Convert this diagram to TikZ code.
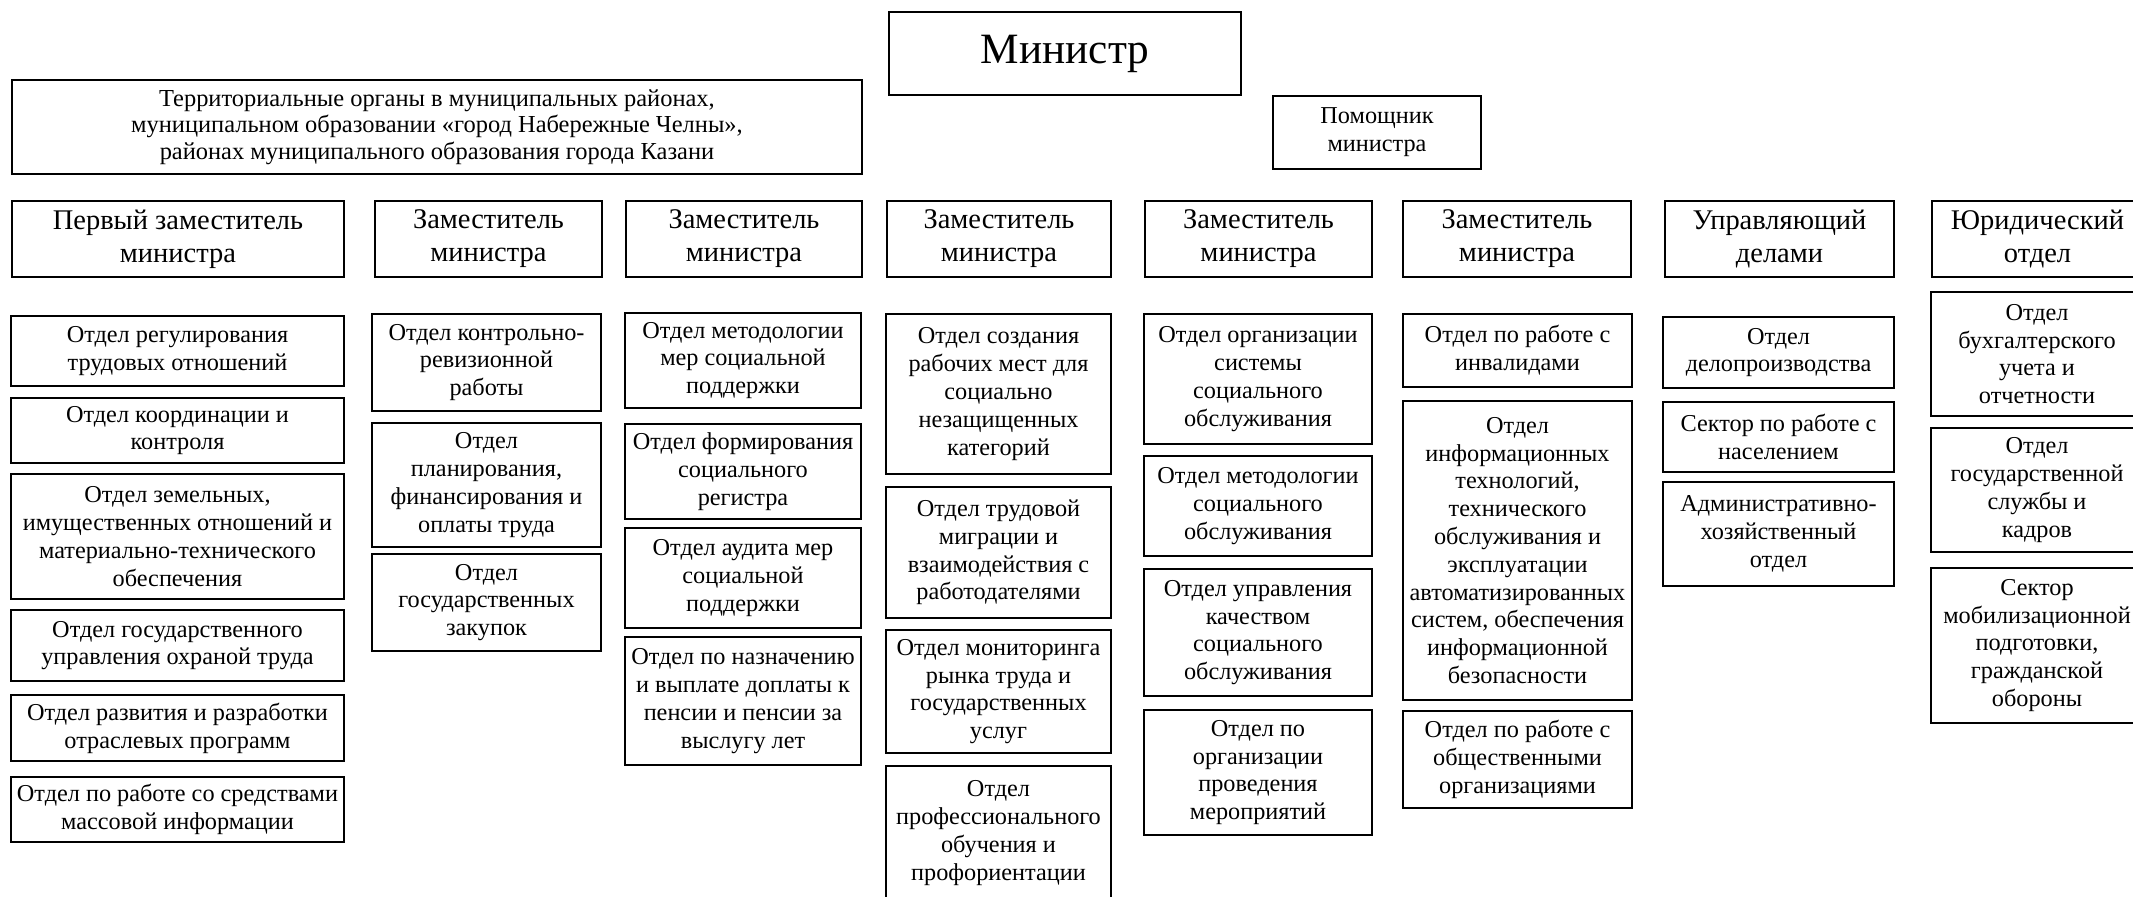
\documentclass[tikz,border=0pt]{standalone}
\usepackage{fontspec}
\setmainfont{Liberation Serif}

\begin{document}
\begin{tikzpicture}[x=0.01cm,y=-0.01cm,
        cell/.style n args={4}{minimum width={(#3-#1)*0.01cm},minimum height={(#4-#2)*0.01cm},
            at={({(#1+#3)/2},{(#2+#4)/2})}},
        box/.style={draw,line width=0.75pt,inner sep=0pt,align=center,
            font=\fontsize{6.9}{7.9}\selectfont},
        headbox/.style={box,font=\fontsize{8.1}{9.4}\selectfont}]
        \clip (0,0) rectangle (2133,897);

        % top
        \node[box,cell={889}{12}{1241}{95},font=\fontsize{12.3}{14}\selectfont] (min) {Министр};
        \node[box,cell={12}{80}{862}{174},font=\fontsize{6.95}{7.6}\selectfont] (terr) {Территориальные органы в муниципальных районах,\\муниципальном образовании «город Набережные Челны»,\\районах муниципального образования города Казани};
        \node[box,cell={1273}{96}{1481}{169},font=\fontsize{6.9}{8}\selectfont] (pom) {Помощник\\министра};

        % deputies
        \node[headbox,cell={12}{201}{344}{277}] (z1) {Первый заместитель\\министра};
        \node[headbox,cell={375}{201}{602}{277}] (z2) {Заместитель\\министра};
        \node[headbox,cell={626}{201}{862}{277}] (z3) {Заместитель\\министра};
        \node[headbox,cell={887}{201}{1111}{277}] (z4) {Заместитель\\министра};
        \node[headbox,cell={1145}{201}{1372}{277}] (z5) {Заместитель\\министра};
        \node[headbox,cell={1403}{201}{1631}{277}] (z6) {Заместитель\\министра};
        \node[headbox,cell={1665}{201}{1894}{277}] (upr) {Управляющий\\делами};
        \node[headbox,cell={1932}{201}{2143}{277}] (jur) {Юридический\\отдел};

        % first deputy
        \node[box,cell={11}{316}{344}{386}] (a1) {Отдел регулирования\\трудовых отношений};
        \node[box,cell={11}{398}{344}{463}] (a2) {Отдел координации и\\контроля};
        \node[box,cell={11}{474}{344}{599}] (a3) {Отдел земельных,\\имущественных отношений и\\материально-технического\\обеспечения};
        \node[box,cell={11}{610}{344}{681}] (a4) {Отдел государственного\\управления охраной труда};
        \node[box,cell={11}{695}{344}{761}] (a5) {Отдел развития и разработки\\отраслевых программ};
        \node[box,cell={11}{777}{344}{842}] (a6) {Отдел по работе со средствами\\массовой информации};

        % deputy 2
        \node[box,cell={372}{314}{601}{411}] (b1) {Отдел контрольно-\\ревизионной\\работы};
        \node[box,cell={372}{423}{601}{547}] (b2) {Отдел\\планирования,\\финансирования и\\оплаты труда};
        \node[box,cell={372}{554}{601}{651}] (b3) {Отдел\\государственных\\закупок};

        % deputy 3
        \node[box,cell={625}{313}{861}{408}] (c1) {Отдел методологии\\мер социальной\\поддержки};
        \node[box,cell={625}{424}{861}{519}] (c2) {Отдел формирования\\социального\\регистра};
        \node[box,cell={625}{528}{861}{628}] (c3) {Отдел аудита мер\\социальной\\поддержки};
        \node[box,cell={625}{637}{861}{765}] (c4) {Отдел по назначению\\и выплате доплаты к\\пенсии и пенсии за\\выслугу лет};

        % deputy 4
        \node[box,cell={886}{314}{1111}{474}] (d1) {Отдел создания\\рабочих мест для\\социально\\незащищенных\\категорий};
        \node[box,cell={886}{487}{1111}{618}] (d2) {Отдел трудовой\\миграции и\\взаимодействия с\\работодателями};
        \node[box,cell={886}{630}{1111}{753}] (d3) {Отдел мониторинга\\рынка труда и\\государственных\\услуг};
        \node[box,cell={886}{766}{1111}{900}] (d4) {Отдел\\профессионального\\обучения и\\профориентации};

        % deputy 5
        \node[box,cell={1144}{314}{1372}{444}] (e1) {Отдел организации\\системы\\социального\\обслуживания};
        \node[box,cell={1144}{456}{1372}{556}] (e2) {Отдел методологии\\социального\\обслуживания};
        \node[box,cell={1144}{569}{1372}{696}] (e3) {Отдел управления\\качеством\\социального\\обслуживания};
        \node[box,cell={1144}{710}{1372}{835}] (e4) {Отдел по\\организации\\проведения\\мероприятий};

        % deputy 6
        \node[box,cell={1403}{314}{1632}{387}] (f1) {Отдел по работе с\\инвалидами};
        \node[box,cell={1403}{401}{1632}{700}] (f2) {Отдел\\информационных\\технологий,\\технического\\обслуживания и\\эксплуатации\\автоматизированных\\систем, обеспечения\\информационной\\безопасности};
        \node[box,cell={1403}{711}{1632}{808}] (f3) {Отдел по работе с\\общественными\\организациями};

        % affairs manager
        \node[box,cell={1663}{317}{1894}{388}] (g1) {Отдел\\делопроизводства};
        \node[box,cell={1663}{402}{1894}{472}] (g2) {Сектор по работе с\\населением};
        \node[box,cell={1663}{482}{1894}{586}] (g3) {Административно-\\хозяйственный\\отдел};

        % legal
        \node[box,cell={1931}{292}{2143}{416}] (h1) {Отдел\\бухгалтерского\\учета и\\отчетности};
        \node[box,cell={1931}{428}{2143}{552}] (h2) {Отдел\\государственной\\службы и\\кадров};
        \node[box,cell={1931}{568}{2143}{723}] (h3) {Сектор\\мобилизационной\\подготовки,\\гражданской\\обороны};
    \end{tikzpicture}
\end{document}
